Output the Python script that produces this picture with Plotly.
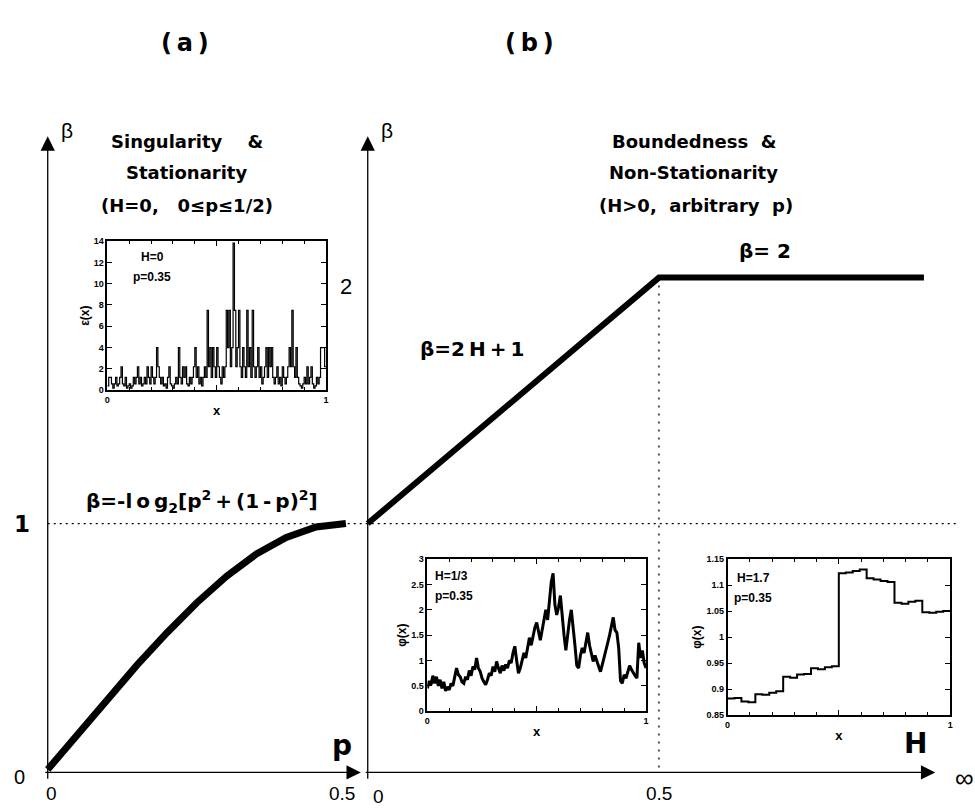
import plotly.graph_objects as go

FIG_W, FIG_H = 975, 812

# ---------------- data ----------------
# panel (a): beta(p) for H = 0
p_vals = [0, 0.05, 0.10, 0.15, 0.20, 0.25, 0.30, 0.35, 0.40, 0.45, 0.50]
beta_p = [0, 0.144, 0.286, 0.425, 0.556, 0.678, 0.786, 0.876, 0.943, 0.986, 1.0]
# panel (b): beta(H)
H_vals = [0, 0.5, 0.955]
beta_H = [1, 2, 2]

# inset (a): eps(x), H=0, p=0.35
eps_vals = [
    0.4, 1.2, 1.2, 0.6, 0.2, 0.6, 1.2, 0.4, 0.6, 1.2,
    2.2, 0.6, 0.4, 1.2, 0.2, 0.4, 0.6, 0.2, 0.4, 1.2,
    0.6, 1.2, 2.2, 0.6, 1.2, 0.4, 0.6, 1.2, 0.6, 2.2,
    1.2, 0.6, 2.2, 1.2, 0.6, 1.2, 4.0, 2.2, 1.2, 0.6,
    1.2, 0.4, 0.6, 0.2, 1.2, 2.2, 0.6, 0.4, 0.2, 0.6,
    1.2, 0.6, 4.0, 1.2, 0.6, 2.2, 1.2, 2.2, 0.6, 0.4,
    1.2, 0.6, 1.2, 2.2, 4.0, 1.2, 2.2, 0.6, 1.2, 0.4,
    1.2, 2.2, 1.2, 7.5, 2.2, 4.0, 1.2, 4.0, 2.2, 1.2,
    4.0, 2.2, 1.2, 0.6, 2.2, 1.2, 2.2, 7.5, 4.0, 7.5,
    2.2, 4.0, 13.8, 7.5, 2.2, 4.0, 7.5, 2.2, 1.2, 4.0,
    2.2, 1.2, 7.5, 2.2, 4.0, 1.2, 7.5, 2.2, 1.2, 2.2,
    4.0, 1.2, 2.2, 0.6, 1.2, 2.2, 4.0, 1.2, 4.0, 2.2,
    4.0, 1.2, 0.6, 1.2, 2.2, 0.6, 1.2, 0.4, 2.2, 1.2,
    0.6, 1.2, 2.2, 4.0, 2.2, 7.5, 2.2, 1.2, 4.0, 1.2,
    0.6, 0.4, 0.2, 0.6, 1.2, 0.6, 2.2, 0.6, 1.2, 2.2,
    0.6, 0.2, 0.4, 1.2, 0.6, 1.2, 4.0, 4.0, 4.0, 2.2,
]
eps_x = [i / len(eps_vals) for i in range(len(eps_vals) + 1)]
eps_y = eps_vals + [eps_vals[-1]]

# inset (b1): phi(x), H=1/3, p=0.35
phi13_vals = [
    0.45, 0.60, 0.52, 0.70, 0.55, 0.68, 0.50, 0.62, 0.45, 0.58,
    0.40, 0.48, 0.42, 0.55, 0.50, 0.70, 0.85, 0.72, 0.68, 0.58,
    0.55, 0.68, 0.62, 0.80, 0.70, 0.88, 0.82, 1.05, 0.85, 0.78,
    0.65, 0.58, 0.52, 0.62, 0.75, 0.70, 0.88, 0.78, 0.98, 0.85,
    0.75, 0.90, 0.80, 0.92, 0.85, 1.00, 0.95, 1.15, 1.28, 1.00,
    0.75, 0.85, 1.00, 1.15, 1.05, 1.30, 1.45, 1.30, 1.50, 1.65,
    1.75, 1.55, 1.40, 1.60, 1.85, 2.00, 1.80, 2.20, 2.55, 2.72,
    2.10, 1.90, 2.05, 2.28, 1.85, 1.50, 1.20, 1.55, 1.80, 2.00,
    1.70, 1.30, 0.90, 0.85, 1.10, 1.25, 1.15, 1.40, 1.55, 1.30,
    1.10, 0.98, 1.10, 1.00, 0.90, 0.78, 0.92, 1.05, 1.20, 1.35,
    1.50, 1.70, 1.85, 1.60, 1.55, 1.25, 0.60, 0.55, 0.72, 0.65,
    0.80, 0.90, 0.82, 0.75, 0.70, 0.65, 1.35, 1.05, 1.20, 0.95,
    0.85,
]
phi13_x = [i / (len(phi13_vals) - 1) for i in range(len(phi13_vals))]

# inset (b2): phi(x), H=1.7, p=0.35 (step function)
phi17_vals = [
    0.882, 0.883, 0.876, 0.875, 0.890, 0.889, 0.893, 0.896,
    0.924, 0.922, 0.928, 0.929, 0.940, 0.938, 0.942, 0.944,
    1.123, 1.124, 1.127, 1.130, 1.113, 1.111, 1.108, 1.106,
    1.066, 1.064, 1.068, 1.070, 1.048, 1.047, 1.049, 1.050,
]
phi17_x = [i / len(phi17_vals) for i in range(len(phi17_vals) + 1)]
phi17_y = phi17_vals + [phi17_vals[-1]]


def PX(x):
    return x / FIG_W


def PY(y):
    return 1 - y / FIG_H


fig = go.Figure()

# main curves
fig.add_trace(go.Scatter(x=p_vals, y=beta_p, mode="lines", xaxis="x", yaxis="y",
                         line=dict(color="black", width=7), showlegend=False,
                         hoverinfo="skip"))
fig.add_trace(go.Scatter(x=H_vals, y=beta_H, mode="lines", xaxis="x2", yaxis="y",
                         line=dict(color="black", width=6), showlegend=False,
                         hoverinfo="skip"))

# insets
fig.add_trace(go.Scatter(x=eps_x, y=eps_y, mode="lines", xaxis="x3", yaxis="y3",
                         line=dict(color="black", width=1.2, shape="hv"),
                         showlegend=False, hoverinfo="skip"))
fig.add_trace(go.Scatter(x=phi13_x, y=phi13_vals, mode="lines", xaxis="x4", yaxis="y4",
                         line=dict(color="black", width=3),
                         showlegend=False, hoverinfo="skip"))
fig.add_trace(go.Scatter(x=phi17_x, y=phi17_y, mode="lines", xaxis="x5", yaxis="y5",
                         line=dict(color="black", width=2, shape="hv"),
                         showlegend=False, hoverinfo="skip"))

FONT = "Liberation Sans, Arial, sans-serif"
DEJA = "DejaVu Sans, Liberation Sans, sans-serif"
NARROW = "Liberation Sans Narrow, Liberation Sans, Arial, sans-serif"
tickfont = dict(family=FONT, size=9, color="black", weight="bold")


def inset_x(domain):
    return dict(domain=domain, range=[0, 1], showline=True, linecolor="black",
                linewidth=1.5, mirror="allticks", ticks="inside", ticklen=5,
                tickwidth=1, tickcolor="black", tickvals=[0, 0.5, 1],
                ticktext=["0", "", "1"], tickfont=tickfont, showgrid=False,
                zeroline=False, fixedrange=True,
                minor=dict(ticks="inside", ticklen=3, dtick=0.1, tick0=0,
                           tickcolor="black", showgrid=False),
                title=dict(text="x", font=dict(family=FONT, size=13, color="black",
                                               weight="bold"), standoff=2))


def inset_y(domain, rng, tv, tt, title):
    return dict(domain=domain, range=rng, showline=True, linecolor="black",
                linewidth=1.5, mirror="allticks", ticks="inside", ticklen=5,
                tickwidth=1, tickcolor="black", tickvals=tv, ticktext=tt,
                tickfont=tickfont, showgrid=False, zeroline=False, fixedrange=True,
                title=dict(text=title, font=dict(family=FONT, size=12, color="black",
                                                 weight="bold"), standoff=2))


eps_ticks = [0, 2, 4, 6, 8, 10, 12, 14]
phi13_ticks = [0, 0.5, 1, 1.5, 2, 2.5, 3]
phi17_ticks = [0.85, 0.9, 0.95, 1.0, 1.05, 1.1, 1.15]

ann = []


def text(x, y, s, size=18, bold=True, family=FONT, xanchor="center", yanchor="middle"):
    ann.append(dict(x=PX(x), y=PY(y), xref="paper", yref="paper", text=s,
                    showarrow=False, xanchor=xanchor, yanchor=yanchor,
                    font=dict(family=family, size=size, color="black",
                              weight="bold" if bold else "normal")))


def arrow(x_tip, y_tip, x_tail, y_tail):
    ann.append(dict(x=PX(x_tip), y=PY(y_tip), xref="paper", yref="paper", text="",
                    showarrow=True, ax=x_tail - x_tip, ay=y_tail - y_tip,
                    axref="pixel", ayref="pixel", arrowhead=2, arrowsize=2.2,
                    arrowwidth=1.3, arrowcolor="black", standoff=0, startstandoff=0))


# axes with arrows
arrow(45, 133, 45, 777)
arrow(367, 133, 367, 777)
arrow(360, 777, 43, 777)
arrow(938, 777, 367, 777)

sp = "\u00a0"
ts = "\u2009"

# panel headers
text(183, 38, "(" + ts + "a" + ts + ")", size=24, family=DEJA)
text(530, 38, "(" + ts + "b" + ts + ")", size=24, family=DEJA)
text(185, 138, "Singularity" + sp * 4 + "&", size=18, family=DEJA)
text(185, 170, "Stationarity", size=18, family=DEJA)
text(185, 203, "(H=0," + sp * 3 + "0≤p≤1/2)", size=18, family=DEJA)
text(695, 138, "Boundedness" + sp * 2 + "&", size=18, family=DEJA)
text(695, 170, "Non-Stationarity", size=18, family=DEJA)
text(697, 203, "(H>0," + sp * 2 + "arbitrary" + sp * 2 + "p)", size=18, family=DEJA)

# beta labels on vertical axes
text(56, 127, "β", size=21, bold=False, xanchor="left")
text(378, 127, "β", size=21, bold=False, xanchor="left")

# formula labels
text(200, 503, "β=-l" + ts + "o" + ts + "g<sub>2</sub>[p<sup>2</sup>" + ts + "+" + ts
     + "(1" + ts + "-" + ts + "p)<sup>2</sup>]", size=20, family=DEJA)
text(472, 348, "β=2" + ts + "H" + ts + "+" + ts + "1", size=20, family=DEJA)
text(767, 249, "β=" + sp + "2", size=20, family=DEJA)

# axis value labels
text(19, 525, "1", size=23, family=DEJA)
text(345, 285, "2", size=22, bold=False)
text(17, 782, "0", size=20, bold=False)
text(49, 798, "0", size=19, bold=False, family=NARROW)
text(341, 798, "0.5", size=19, bold=False, family=NARROW)
text(378, 801, "0", size=19, bold=False, family=NARROW)
text(660, 798, "0.5", size=19, bold=False, family=NARROW)
text(341, 750, "p", size=28, family=DEJA)
text(918, 748, "H", size=28, family=DEJA)
text(967, 783, "∞", size=26, bold=False)

# inset annotation texts
text(150, 255, "H=0", size=12)
text(150, 275, "p=0.35", size=12)
text(433, 578, "H=1/3", size=12, xanchor="left")
text(433, 598, "p=0.35", size=12, xanchor="left")
text(737, 580, "H=1.7", size=12, xanchor="left")
text(734, 600, "p=0.35", size=12, xanchor="left")

shapes = [
    dict(type="line", xref="paper", yref="y", x0=PX(45), x1=PX(962), y0=1, y1=1,
         line=dict(color="black", width=1.3, dash="2px,4px")),
    dict(type="line", xref="x2", yref="y", x0=0.5, x1=0.5, y0=2, y1=-0.01,
         line=dict(color="black", width=1.3, dash="2px,6px")),
]

fig.update_layout(
    width=FIG_W, height=FIG_H, autosize=False,
    margin=dict(l=0, r=0, t=0, b=0, pad=0),
    paper_bgcolor="white", plot_bgcolor="white",
    showlegend=False,
    xaxis=dict(domain=[0, 1], range=[-0.075, 1.55], visible=False, fixedrange=True),
    xaxis2=dict(domain=[0, 1], range=[-0.62628, 1.03754], visible=False,
                overlaying="x", fixedrange=True),
    yaxis=dict(domain=[0, 1], range=[-0.15262, 3.10838], visible=False, fixedrange=True),
    xaxis3=inset_x([PX(105), PX(325)]),
    yaxis3=inset_y([PY(390), PY(239)], [0, 14], eps_ticks,
                   [str(v) for v in eps_ticks], "ε(x)"),
    xaxis4=inset_x([PX(427), PX(647)]),
    yaxis4=inset_y([PY(715), PY(561)], [0, 3], phi13_ticks,
                   ["0", "0.5", "1", "1.5", "2", "2.5", "3"], "φ(x)"),
    xaxis5=inset_x([PX(729), PX(953)]),
    yaxis5=inset_y([PY(719), PY(561)], [0.85, 1.15], phi17_ticks,
                   ["0.85", "0.9", "0.95", "1", "1.05", "1.1", "1.15"], "φ(x)"),
    annotations=ann,
    shapes=shapes,
)
fig.update_layout(xaxis3_anchor="y3", yaxis3_anchor="x3",
                  xaxis4_anchor="y4", yaxis4_anchor="x4",
                  xaxis5_anchor="y5", yaxis5_anchor="x5")

fig.write_html("out.html")
